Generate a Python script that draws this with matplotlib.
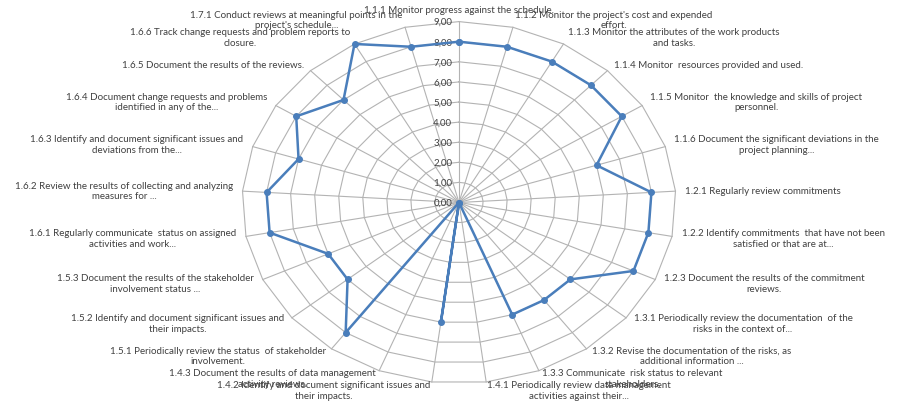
import numpy as np
import matplotlib.pyplot as plt

labels = [
    "1.1.1 Monitor progress against the schedule.",
    "1.1.2 Monitor the project's cost and expended\neffort.",
    "1.1.3 Monitor the attributes of the work products\nand tasks.",
    "1.1.4 Monitor  resources provided and used.",
    "1.1.5 Monitor  the knowledge and skills of project\npersonnel.",
    "1.1.6 Document the significant deviations in the\nproject planning...",
    "1.2.1 Regularly review commitments",
    "1.2.2 Identify commitments  that have not been\nsatisfied or that are at...",
    "1.2.3 Document the results of the commitment\nreviews.",
    "1.3.1 Periodically review the documentation  of the\nrisks in the context of...",
    "1.3.2 Revise the documentation of the risks, as\nadditional information ...",
    "1.3.3 Communicate  risk status to relevant\nstakeholders.",
    "1.4.1 Periodically review data management\nactivities against their...",
    "1.4.2 Identify and document significant issues and\ntheir impacts.",
    "1.4.3 Document the results of data management\nactivity reviews.",
    "1.5.1 Periodically review the status  of stakeholder\ninvolvement.",
    "1.5.2 Identify and document significant issues and\ntheir impacts.",
    "1.5.3 Document the results of the stakeholder\ninvolvement status ...",
    "1.6.1 Regularly communicate  status on assigned\nactivities and work...",
    "1.6.2 Review the results of collecting and analyzing\nmeasures for ...",
    "1.6.3 Identify and document significant issues and\ndeviations from the...",
    "1.6.4 Document change requests and problems\nidentified in any of the...",
    "1.6.5 Document the results of the reviews.",
    "1.6.6 Track change requests and problem reports to\nclosure.",
    "1.7.1 Conduct reviews at meaningful points in the\nproject's schedule...",
]
values = [8, 8, 8, 8, 8, 6, 8, 8, 8, 6, 6, 6, 0, 6, 0, 8, 6, 6, 8, 8, 7, 8, 7, 9, 8]
ticks = [0, 1, 2, 3, 4, 5, 6, 7, 8, 9]
tick_labels = ["%.2f" % t for t in ticks]
tick_labels = [s.replace(".", ",") for s in tick_labels]

W, H = 897, 406
cx, cy = 459, 203.5       # chart centre in pixels
sx, sy = 24.1, 20.1       # pixels per unit (chart is stretched sideways)

fig = plt.figure(figsize=(W / 100, H / 100), dpi=100)
ax = fig.add_axes([0, 0, 1, 1])
ax.set_xlim(-cx / sx, (W - cx) / sx)
ax.set_ylim(-(H - cy) / sy, cy / sy)
ax.axis('off')

n = len(labels)
ang = np.arange(n) * 2 * np.pi / n
s, c = np.sin(ang), np.cos(ang)

grid_col = '#b3b3b3'
rmax = ticks[-1]
for r in ticks[1:]:
    ax.plot(np.append(r * s, 0), np.append(r * c, r), color=grid_col, lw=0.8, zorder=1)
for i in range(n):
    ax.plot([0, rmax * s[i]], [0, rmax * c[i]], color=grid_col, lw=0.8, zorder=1)

for t, tl in zip(ticks, tick_labels):
    ax.text(-0.28, t, tl, ha='right', va='center', fontsize=7,
            color='#404040', family='Lato', zorder=3)

v = np.array(values, dtype=float)
ax.plot(np.append(v * s, v[0] * s[0]), np.append(v * c, v[0] * c[0]),
        color='#4a7ebb', lw=1.8, marker='o', ms=4, zorder=4)

lr = 9.4
for i, lab in enumerate(labels):
    x, y = lr * s[i], lr * c[i]
    if abs(s[i]) < 0.1:
        ha = 'center'
        va = 'bottom' if c[i] > 0 else 'top'
    else:
        ha = 'left' if s[i] > 0 else 'right'
        va = 'center'
    ax.text(x, y, lab, ha=ha, va=va, multialignment='center', fontsize=7.0,
            color='#404040', family='Lato', linespacing=1.2, zorder=3)

fig.savefig('out.png', dpi=100, facecolor='white')
